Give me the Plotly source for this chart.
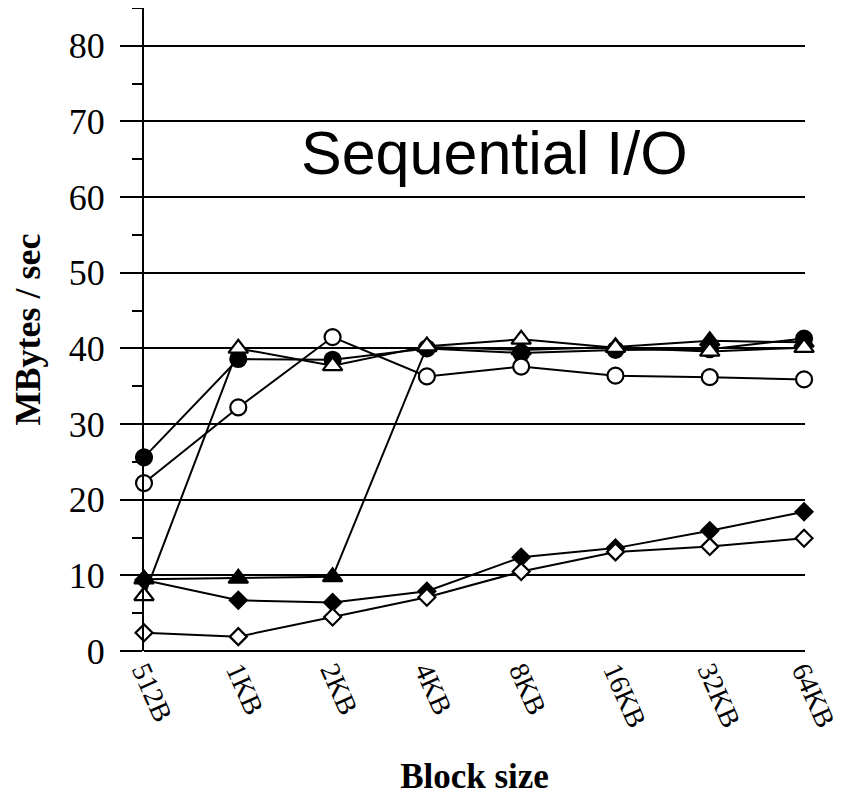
import plotly.graph_objects as go

categories = ["512B", "1KB", "2KB", "4KB", "8KB", "16KB", "32KB", "64KB"]

filled_circle = [25.6, 38.6, 38.5, 40.0, 39.4, 39.8, 39.9, 41.3]
open_circle = [22.2, 32.2, 41.5, 36.3, 37.6, 36.4, 36.2, 35.9]
filled_triangle = [9.5, 9.6, 9.8, 40.2, 39.8, 40.2, 41.0, 40.8]
open_triangle = [7.3, 40.0, 37.7, 40.3, 41.2, 40.1, 39.6, 40.1]
filled_diamond = [9.4, 6.7, 6.4, 7.9, 12.4, 13.6, 15.9, 18.4]
open_diamond = [2.4, 1.9, 4.5, 7.1, 10.5, 13.1, 13.8, 14.9]

y_ticks = [0, 10, 20, 30, 40, 50, 60, 70, 80]

series = [
    ("filled circle", filled_circle, "circle", "black", 16),
    ("open circle", open_circle, "circle", "white", 16),
    ("filled triangle", filled_triangle, "triangle-up", "black", 17),
    ("open triangle", open_triangle, "triangle-up", "white", 17),
    ("filled diamond", filled_diamond, "diamond", "black", 13),
    ("open diamond", open_diamond, "diamond", "white", 13),
]

fig = go.Figure()
for name, vals, sym, fill, size in series:
    fig.add_trace(go.Scatter(
        x=categories, y=vals, name=name, mode="lines+markers",
        line=dict(color="black", width=2),
        marker=dict(symbol=sym, size=size, color=fill,
                    line=dict(color="black", width=2.2)),
        cliponaxis=False,
    ))

serif = "Liberation Serif, Times New Roman, serif"

# the page body adds an 8px offset, so the figure is sized to fit inside it
fig.update_layout(
    width=834, height=799,
    margin=dict(l=136, r=37, t=0, b=156),
    paper_bgcolor="white", plot_bgcolor="white",
    showlegend=False,
    font=dict(family=serif, color="black"),
    xaxis=dict(
        type="category", categoryorder="array", categoryarray=categories,
        range=[0, 7.01], showgrid=False, zeroline=False, automargin=False,
        showline=False, ticks="", tickangle=66,
        tickfont=dict(family=serif, size=28, color="black"),
        ticklabelstandoff=-3,
        title=dict(text="<b>Block size</b>", font=dict(family=serif, size=35, color="black"),
                   standoff=32),
    ),
    yaxis=dict(
        range=[0, 85], tickvals=y_ticks, showgrid=True, gridcolor="black",
        gridwidth=2, zeroline=True, zerolinecolor="black", zerolinewidth=2,
        showline=True, linecolor="black", linewidth=2, automargin=False,
        ticks="outside", ticklen=22, tickwidth=2, tickcolor="black",
        minor=dict(dtick=5, tick0=5, ticks="outside", ticklen=10, tickwidth=2,
                   tickcolor="black", showgrid=False),
        tickfont=dict(family=serif, size=36, color="black"),
        ticklabelstandoff=8,
        title=dict(text="<b>MBytes / sec</b>", font=dict(family=serif, size=36, color="black"),
                   standoff=20),
    ),
)

fig.add_annotation(
    text="Sequential I/O", xref="paper", yref="paper", x=0.53, y=0.775,
    xanchor="center", yanchor="middle", showarrow=False,
    font=dict(family="Liberation Sans, Arial, sans-serif", size=61, color="black"),
)

fig.write_html("out.html")
